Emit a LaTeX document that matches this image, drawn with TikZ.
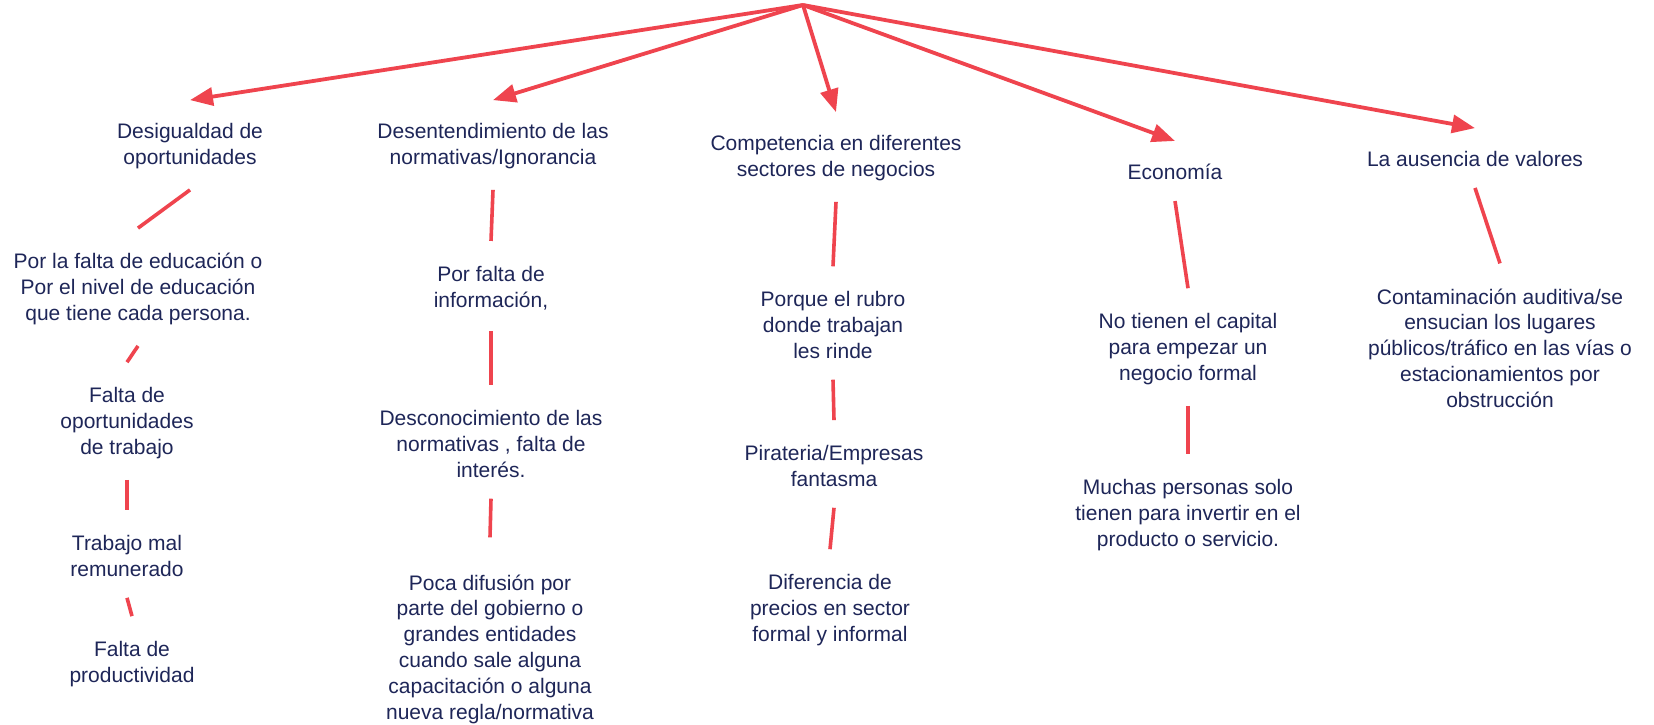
\documentclass[tikz,border=0pt]{standalone}
\usepackage{fontspec}
\setmainfont{Liberation Sans}
\usetikzlibrary{arrows.meta}
\definecolor{navy}{RGB}{30,38,88}
\definecolor{redline}{RGB}{239,68,78}
\begin{document}
\begin{tikzpicture}[x=1pt,y=-1pt,
  txt/.style={align=center, inner sep=0pt, text=navy, font=\fontsize{21}{25.8}\selectfont},
  arr/.style={draw=redline, line width=3.8pt, -{Triangle[length=23pt,width=18pt]}},
  lnk/.style={draw=redline, line width=3.6pt}]
\path[use as bounding box, fill=white] (0,0) rectangle (1654,724);
\coordinate (hub) at (803,5);
% column A
\node[txt] (A1) at (190,146) {Desigualdad de\\oportunidades};
\node[txt] (A2) at (138,289) {Por la falta de educación o\\Por el nivel de educación\\que tiene cada persona.};
\node[txt] (A3) at (127,423) {Falta de\\oportunidades\\de trabajo};
\node[txt] (A4) at (127,556) {Trabajo mal\\remunerado};
\node[txt] (A5) at (132,664) {Falta de\\productividad};
% column B
\node[txt] (B1) at (493,146) {Desentendimiento de las\\normativas/Ignorancia};
\node[txt] (B2) at (491,288) {Por falta de\\información,};
\node[txt] (B3) at (491,444) {Desconocimiento de las\\normativas , falta de\\interés.};
\node[txt] (B4) at (490,649) {Poca difusión por\\parte del gobierno o\\grandes entidades\\cuando sale alguna\\capacitación o alguna\\nueva regla/normativa};
% column C
\node[txt] (C1) at (836,158) {Competencia en diferentes\\sectores de negocios};
\node[txt] (C2) at (833,325) {Porque el rubro\\donde trabajan\\les rinde};
\node[txt] (C3) at (834,466) {Pirateria/Empresas\\fantasma};
\node[txt] (C4) at (830,610) {Diferencia de\\precios en sector\\formal y informal};
% column D
\node[txt] (D1) at (1175,172) {Economía};
\node[txt] (D2) at (1188,349) {No tienen el capital\\para empezar un\\negocio formal};
\node[txt] (D3) at (1188,515) {Muchas personas solo\\tienen para invertir en el\\producto o servicio.};
% column E
\node[txt] (E1) at (1475,159) {La ausencia de valores};
\node[txt] (E2) at (1500,348) {Contaminación auditiva/se\\ensucian los lugares\\públicos/tráfico en las vías o\\estacionamientos por\\obstrucción};
% arrows
\foreach \n in {A1,B1,C1,D1,E1}
  \draw[arr] (hub) -- ([yshift=23pt]\n.north);
% links
\foreach \a/\b in {A1/A2,A2/A3,A3/A4,A4/A5,B1/B2,B2/B3,C1/C2,C2/C3,C3/C4,D1/D2,D2/D3,E1/E2}
  \draw[lnk] ([yshift=-21pt]\a.south) -- ([yshift=25pt]\b.north);
\draw[lnk] ([yshift=-21pt]B3.south) -- ([yshift=37pt]B4.north);
\end{tikzpicture}
\end{document}
